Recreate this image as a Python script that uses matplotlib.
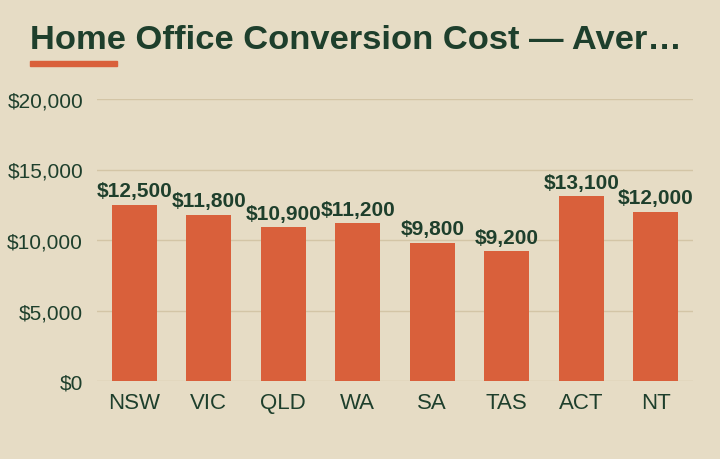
import matplotlib.pyplot as plt
from matplotlib.ticker import FuncFormatter

# Data
states = ["NSW", "VIC", "QLD", "WA", "SA", "TAS", "ACT", "NT"]
costs = [12500, 11800, 10900, 11200, 9800, 9200, 13100, 12000]
y_ticks = [0, 5000, 10000, 15000, 20000]

bg = "#E6DCC5"
dark = "#1E3F2C"
bar_color = "#D9603B"
grid_color = "#D3C5A6"

plt.rcParams['font.family'] = ['Liberation Sans', 'DejaVu Sans']

fig = plt.figure(figsize=(7.2, 4.6), dpi=100, facecolor=bg)
ax = fig.add_axes([97 / 720, 78 / 460, 596 / 720, 282 / 460], facecolor=bg)

# Bars
ax.bar(range(len(states)), costs, width=0.6, color=bar_color, zorder=3)

# Value labels on top of each bar
for i, v in enumerate(costs):
    ax.annotate(f"${v:,}", (i, v), xytext=(0, 6), textcoords="offset points",
                ha="center", va="baseline", fontsize=15, fontweight="bold",
                color=dark, zorder=4)

ax.set_xlim(-0.5, len(states) - 0.5)
ax.set_ylim(0, 20000)
ax.set_xticks(range(len(states)))
ax.set_xticklabels(states)
ax.set_yticks(y_ticks)
ax.yaxis.set_major_formatter(FuncFormatter(lambda v, p: f"${int(v):,}"))
ax.tick_params(axis="both", length=0, colors=dark)
ax.tick_params(axis="x", labelsize=16, pad=8)
ax.tick_params(axis="y", labelsize=15, pad=10)
ax.grid(axis="y", color=grid_color, linewidth=1, zorder=0)
for s in ax.spines.values():
    s.set_visible(False)

# Title and accent underline
fig.text(30 / 720, 1 - 49 / 460, "Home Office Conversion Cost \u2014 Aver\u2026",
         fontsize=24.8, fontweight="bold", color=dark, ha="left", va="baseline")
fig.patches.append(plt.Rectangle((30 / 720, 1 - 67 / 460), 87 / 720, 5 / 460,
                                 transform=fig.transFigure, color=bar_color))

fig.savefig("out.png", dpi=100, facecolor=bg)
